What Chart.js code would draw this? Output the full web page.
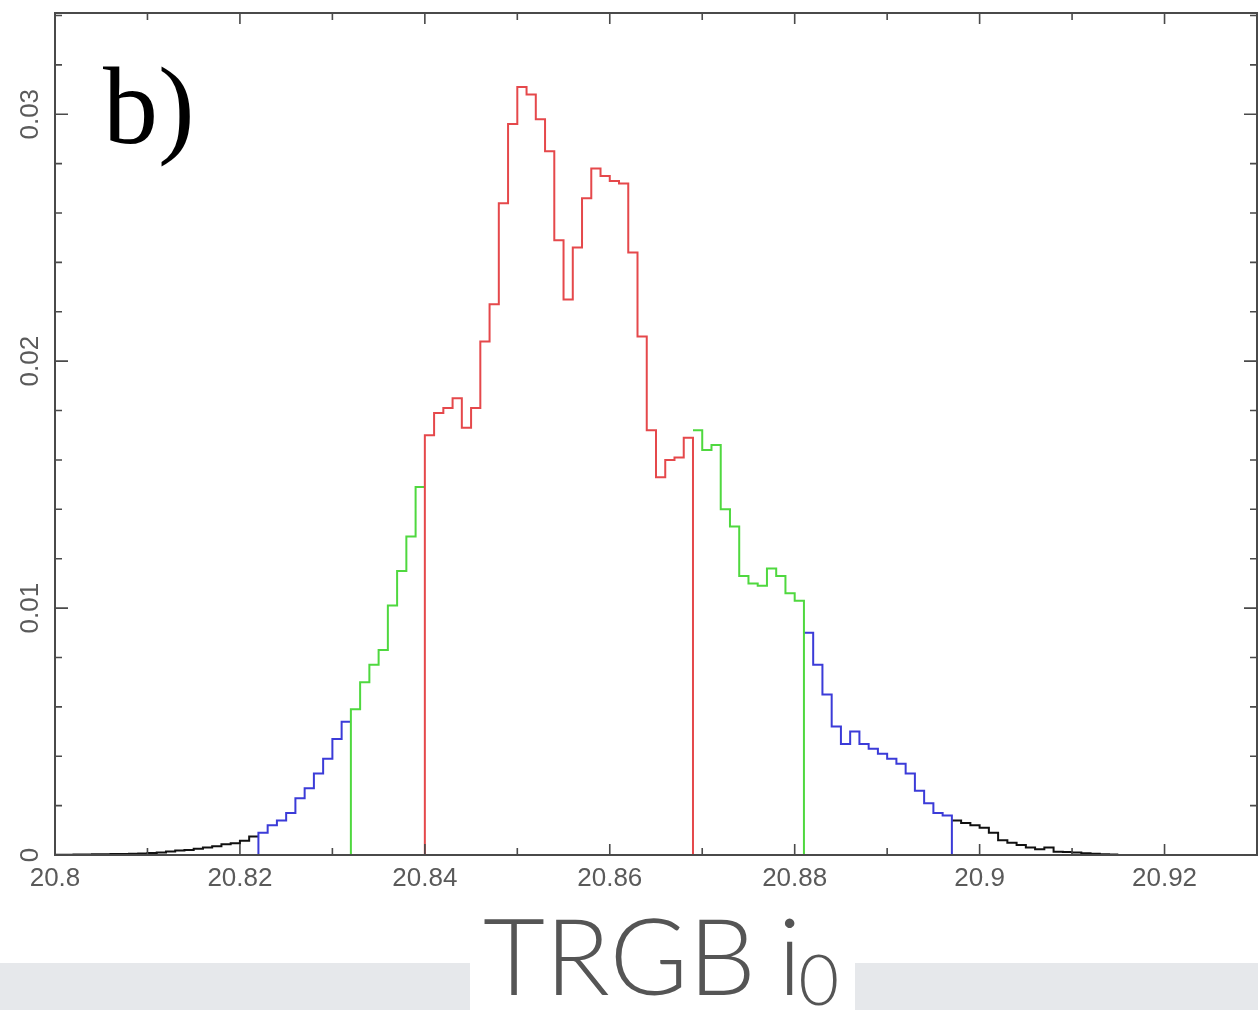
<!DOCTYPE html>
<html>
<head>
<meta charset="utf-8">
<script src="https://cdn.jsdelivr.net/npm/chart.js@4.4.0/dist/chart.umd.min.js"></script>
<style>
  body { margin: 0; background: #fff; }
  #wrap { position: relative; width: 1258px; height: 1010px; overflow: hidden; }
</style>
</head>
<body>
<div id="wrap"><canvas id="hist" width="1258" height="1010"></canvas></div>
<script>
// histogram of TRGB i0, bins of 0.001 mag starting at 20.8
const binStart = 20.8;
const binWidth = 0.001;
const density = [
  0.00001, 0.00001, 0.00002, 0.00002, 0.00003, 0.00003, 0.00004, 0.00004, 0.00005, 0.00006,
  0.00008, 0.0001, 0.00014, 0.00018, 0.0002, 0.00025, 0.0003, 0.00035, 0.00044, 0.00048, 0.00058, 0.00075,
  0.0009, 0.0012, 0.0014, 0.0017, 0.0023, 0.0027, 0.0033, 0.0039, 0.0047, 0.0054,
  0.0059, 0.0070, 0.0077, 0.0083, 0.0101, 0.0115, 0.0129, 0.0149,
  0.0170, 0.0179, 0.0181, 0.0185, 0.0173, 0.0181, 0.0208, 0.0223, 0.0264, 0.0296,
  0.0311, 0.0308, 0.0298, 0.0285, 0.0249, 0.0225, 0.0246, 0.0266, 0.0278, 0.0275,
  0.0273, 0.0272, 0.0244, 0.0210, 0.0172, 0.0153, 0.0160, 0.0161, 0.0169,
  0.0172, 0.0164, 0.0166, 0.0140, 0.0133, 0.0113, 0.0110, 0.0109, 0.0116, 0.0113, 0.0106, 0.0103,
  0.0090, 0.0077, 0.0065, 0.0052, 0.0045, 0.0050, 0.0045, 0.0043, 0.0041, 0.0039, 0.0037, 0.0033, 0.0026, 0.0021, 0.0017, 0.0016,
  0.0014, 0.0013, 0.0012, 0.0011, 0.0009, 0.0006, 0.0005, 0.0004, 0.0003, 0.00023, 0.0003, 0.00013, 0.00012, 0.0001, 0.00007, 0.00005, 0.00003, 0.00002
];
// credible ranges (mag)
const redRange = [20.840, 20.869];
const greenRange = [20.832, 20.881];
const blueRange = [20.822, 20.897];

const xTickLabels = [20.8, 20.82, 20.84, 20.86, 20.88, 20.9, 20.92];
const xMinorTicks = [20.81, 20.83, 20.85, 20.87, 20.89, 20.91, 20.93];
const yTickLabels = [0, 0.01, 0.02, 0.03];
const yMinorTicks = [0.002, 0.004, 0.006, 0.008, 0.012, 0.014, 0.016, 0.018, 0.022, 0.024, 0.026, 0.028, 0.032, 0.034];

function edge(i) { return +(binStart + i * binWidth).toFixed(4); }
function binOf(v) { return Math.round((v - binStart) / binWidth); }

// step points for bins [i0, i1), optional drop to zero at each end
function stepPoints(i0, i1, dropStart, dropEnd) {
  var pts = [];
  if (i1 <= i0) return pts;
  if (dropStart) pts.push({x: edge(i0), y: 0});
  for (var i = i0; i < i1; i++) pts.push({x: edge(i), y: density[i]});
  pts.push({x: edge(i1), y: density[i1 - 1]});
  if (dropEnd) pts.push({x: edge(i1), y: 0});
  return pts;
}
// a range minus the inner range: left and right pieces, joined by a gap
function ringPoints(outer, inner) {
  var a = outer ? binOf(outer[0]) : 0;
  var b = outer ? binOf(outer[1]) : density.length;
  var left = stepPoints(a, binOf(inner[0]), !!outer, false);
  var right = stepPoints(binOf(inner[1]), b, false, !!outer);
  return left.concat([{x: NaN, y: NaN}], right);
}

function ds(pts, color) {
  return { data: pts, borderColor: color, borderWidth: 2, pointRadius: 0, stepped: true, fill: false, spanGaps: false };
}

const frame = {
  id: 'frame',
  beforeDraw(chart) {
    const c = chart.ctx;
    c.save();
    c.fillStyle = '#e6e8eb';
    c.fillRect(0, 963, 470, 47);
    c.fillRect(855, 963, 403, 47);
    c.restore();
  },
  afterDraw(chart) {
    const c = chart.ctx, a = chart.chartArea;
    const xs = chart.scales.x, ys = chart.scales.y;
    c.save();
    c.strokeStyle = '#4a4a4a';
    c.lineWidth = 2;
    c.strokeRect(a.left, a.top, a.right - a.left, a.bottom - a.top);
    c.lineWidth = 1.6;
    c.beginPath();
    xTickLabels.concat(xMinorTicks).forEach(function (v, k) {
      var len = k < xTickLabels.length ? 11 : 7;
      var px = xs.getPixelForValue(v);
      c.moveTo(px, a.bottom); c.lineTo(px, a.bottom - len);
      c.moveTo(px, a.top); c.lineTo(px, a.top + len);
    });
    yTickLabels.concat(yMinorTicks).forEach(function (v, k) {
      var len = k < yTickLabels.length ? 13 : 7;
      var py = ys.getPixelForValue(v);
      c.moveTo(a.left, py); c.lineTo(a.left + len, py);
      c.moveTo(a.right, py); c.lineTo(a.right - len, py);
    });
    c.stroke();

    c.fillStyle = '#5a5a5a';
    c.font = '26px "Liberation Sans", Arial, sans-serif';
    c.textAlign = 'center';
    c.textBaseline = 'middle';
    xTickLabels.forEach(function (v) {
      c.fillText(String(v), xs.getPixelForValue(v), a.bottom + 24);
    });
    yTickLabels.forEach(function (v) {
      c.save();
      c.translate(31, ys.getPixelForValue(v));
      c.rotate(-Math.PI / 2);
      c.fillText(String(v), 0, 0);
      c.restore();
    });

    // panel label
    c.fillStyle = '#000';
    c.textAlign = 'left';
    c.textBaseline = 'alphabetic';
    c.font = '110px "Liberation Serif", "Times New Roman", serif';
    c.fillText('b)', 103, 143);

    // axis title
    c.fillStyle = '#555';
    c.font = '300 107px Lato, "Open Sans", sans-serif';
    c.fillText('TRGB', 483, 995);
    var x = 483 + c.measureText('TRGB').width + 22;
    c.fillText('i', x, 995);
    x += c.measureText('i').width - 3;
    c.font = '300 70px Lato, "Open Sans", sans-serif';
    c.fillText('0', x, 1005);
    c.restore();
  }
};

const ctx = document.getElementById('hist').getContext('2d');
const chart = new Chart(ctx, {
  type: 'line',
  data: {
    datasets: [
      ds(stepPoints(binOf(redRange[0]), binOf(redRange[1]), true, true), '#e5484b'),
      ds(ringPoints(greenRange, redRange), '#4fd83f'),
      ds(ringPoints(blueRange, greenRange), '#3b3bd8'),
      ds(ringPoints(null, blueRange), '#111')
    ]
  },
  options: {
    responsive: false,
    animation: false,
    layout: { padding: { left: 55, right: 1, top: 13, bottom: 155 } },
    plugins: { legend: { display: false }, tooltip: { enabled: false } },
    scales: {
      x: { type: 'linear', min: 20.8, max: 20.93, display: false },
      y: { min: 0, max: 0.0341, display: false }
    }
  },
  plugins: [frame]
});
</script>
</body>
</html>
